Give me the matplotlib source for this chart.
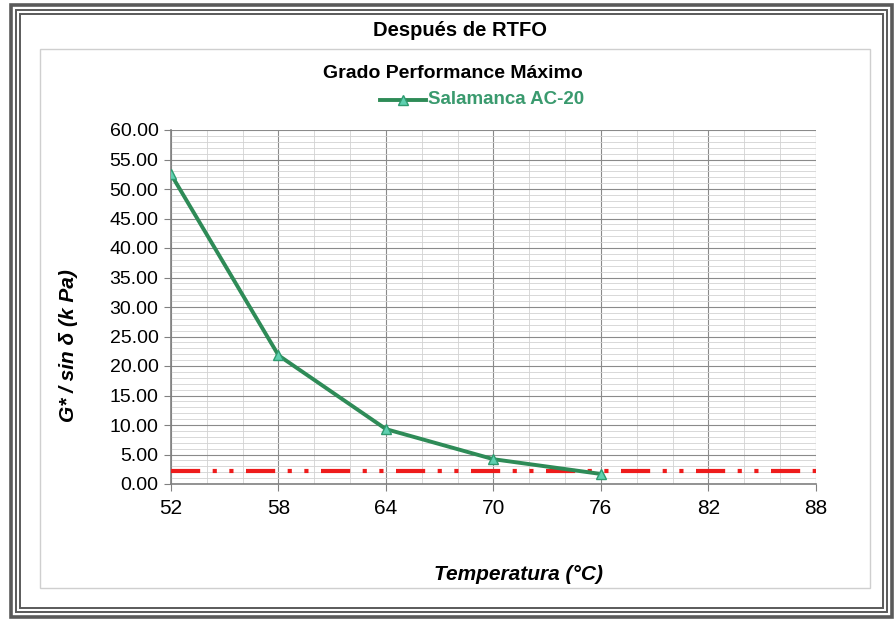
import numpy as np
import matplotlib.pyplot as plt
from matplotlib.patches import Rectangle
from matplotlib.ticker import MultipleLocator
from matplotlib.lines import Line2D

plt.rcParams['font.family'] = ['Liberation Sans', 'DejaVu Sans']

# Data
temperatura = [52, 58, 64, 70, 76]
g_sin_delta = [52.5, 21.8, 9.3, 4.2, 1.7]
limite_x = [52, 88]
limite_y = [2.2, 2.2]
x_ticks = [52, 58, 64, 70, 76, 82, 88]
y_ticks = np.arange(0, 60.01, 5)

W, H = 896, 619
fig = plt.figure(figsize=(W / 100, H / 100), dpi=100)


def box(x0, y0, x1, y1, **kw):
    # rectangle given in pixel corners (top-left origin)
    fig.add_artist(Rectangle((x0 / W, 1 - y1 / H), (x1 - x0) / W, (y1 - y0) / H,
                             transform=fig.transFigure, fill=False, **kw))


def fx(px):
    return px / W


def fy(py):
    return 1 - py / H


# outer frame (double border)
box(11, 5, 892, 617, lw=2.6, ec='#5a5a5a')
box(16, 10, 887, 612, lw=1.4, ec='#5a5a5a')
box(20, 14, 883, 608, lw=1.4, ec='#5a5a5a')

# inner chart box
box(40, 49, 870, 588, lw=1.0, ec='#cfcfcf')

ax = fig.add_axes([fx(171), fy(484), fx(816 - 171), fy(130) - fy(484)])

ax.plot(limite_x, limite_y, color='#ee1c1c', lw=3.0, dashes=(7.0, 3.0, 1.0, 3.0, 1.0, 3.0),
        dash_capstyle='butt', zorder=3)
ax.plot(temperatura, g_sin_delta, color='#2e8b57', lw=2.8, marker='^', markersize=7,
        markerfacecolor='#5fd0b0', markeredgecolor='#2e9b70', zorder=4)

ax.set_xlim(52, 88)
ax.set_ylim(0, 60)
ax.set_xticks(x_ticks)
ax.set_yticks(y_ticks)
ax.set_yticklabels([f'{v:.2f}' for v in y_ticks])
ax.xaxis.set_minor_locator(MultipleLocator(2))
ax.yaxis.set_minor_locator(MultipleLocator(1))
ax.grid(which='major', color='#8a8a8a', lw=0.8)
ax.grid(which='minor', color='#d2d2d2', lw=0.6)
ax.set_axisbelow(True)
ax.tick_params(axis='y', which='major', labelsize=14, length=5, color='#808080', pad=4)
ax.tick_params(axis='x', which='major', labelsize=15, length=5, color='#808080', pad=6)
ax.tick_params(which='minor', length=0)
for side in ['top', 'right']:
    ax.spines[side].set_visible(False)
for side in ['left', 'bottom']:
    ax.spines[side].set_color('#808080')
    ax.spines[side].set_linewidth(1.2)

fig.text(fx(460), fy(30), 'Después de RTFO', ha='center', va='center', fontsize=14.5, fontweight='bold')
fig.text(fx(453), fy(73), 'Grado Performance Máximo', ha='center', va='center', fontsize=14, fontweight='bold')
fig.text(fx(68), fy(346), 'G* / sin δ (k Pa)', ha='center', va='center', rotation=90,
         fontsize=15, fontweight='bold', fontstyle='italic')
fig.text(fx(518), fy(574), 'Temperatura (°C)', ha='center', va='center',
         fontsize=15, fontweight='bold', fontstyle='italic')

# legend entry
fig.add_artist(Line2D([fx(380), fx(426)], [fy(100), fy(100)], transform=fig.transFigure,
                      color='#2e8b57', lw=2.8))
fig.add_artist(Line2D([fx(403)], [fy(100)], transform=fig.transFigure, marker='^', markersize=7,
                      markerfacecolor='#5fd0b0', markeredgecolor='#2e9b70', lw=0))
fig.text(fx(428), fy(100), 'Salamanca AC-20', ha='left', va='center', fontsize=13.5,
         fontweight='bold', color='#3a9a6e')

fig.savefig('out.png', dpi=100)
